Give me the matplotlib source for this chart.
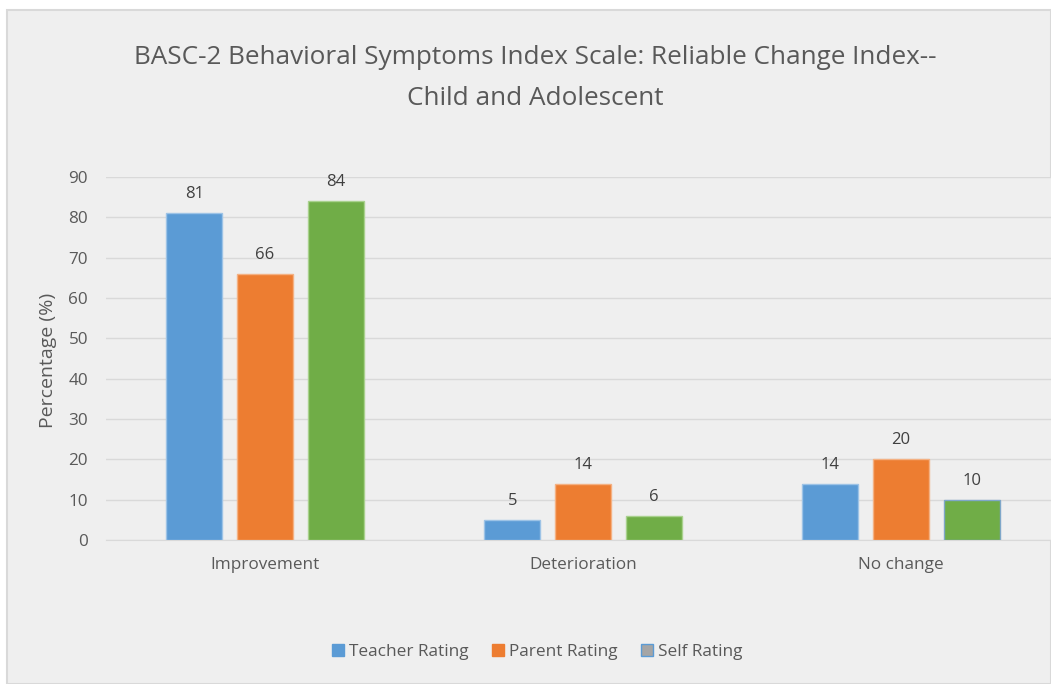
import numpy as np
import matplotlib.pyplot as plt
from matplotlib.patches import Rectangle, Patch

plt.rcParams["font.family"] = ["Open Sans", "DejaVu Sans"]

categories = ["Improvement", "Deterioration", "No change"]
teacher = [81, 5, 14]
parent = [66, 14, 20]
self_rating = [84, 6, 10]
series_names = ["Teacher Rating", "Parent Rating", "Self Rating"]

BG = "#efefef"
TXT = "#595959"
colors = ["#5b9bd5", "#ed7d31", "#70ad47"]
edges = ["#9dc3e6", "#f4b183", "#a9d18e"]

W, H = 1051, 684
fig = plt.figure(figsize=(W / 100, H / 100), dpi=100, facecolor="white")
fig.patches.append(Rectangle((7 / W, 0), 1 - 7 / W, 1 - 10 / H, transform=fig.transFigure,
                             facecolor=BG, edgecolor="#d9d9d9", lw=1.5, zorder=-1))

ax = fig.add_axes([106 / W, 1 - 540 / H, 954 / W, (540 - 177) / H])
ax.set_facecolor(BG)

x = np.arange(len(categories))
bw = 0.176
pitch = 0.222
data = [teacher, parent, self_rating]
for i, vals in enumerate(data):
    pos = x + (i - 1) * pitch
    ec = [edges[i]] * len(vals)
    if i == 2:
        ec[2] = "#7fa7c9"
    ax.bar(pos, vals, bw, color=colors[i], edgecolor=ec, linewidth=1, zorder=3)
    for p, v in zip(pos, vals):
        ax.text(p, v + 2.7, str(v), ha="center", va="bottom", fontsize=12, color="#404040")

ax.set_xlim(-0.5, 2.5)
ax.set_ylim(0, 90)
ax.set_yticks(range(0, 91, 10))
ax.yaxis.grid(True, color="#d9d9d9", lw=1, zorder=0)
ax.set_xticks(x)
ax.set_xticklabels(categories)
ax.tick_params(axis="both", length=0, labelsize=12.3, labelcolor=TXT)
ax.tick_params(axis="x", pad=12)
ax.tick_params(axis="y", pad=13)
for s in ["top", "right", "left"]:
    ax.spines[s].set_visible(False)
ax.spines["bottom"].set_color("#d9d9d9")

fig.text(48 / W, 1 - 360 / H, "Percentage (%)", rotation=90, ha="center", va="center",
         fontsize=14, color=TXT)

fig.text(535 / W, 1 - 78 / H,
         "BASC-2 Behavioral Symptoms Index Scale: Reliable Change Index--\nChild and Adolescent",
         ha="center", va="center", fontsize=18.8, color=TXT, linespacing=1.8)

handles = [Patch(facecolor=colors[0], edgecolor=colors[0]),
           Patch(facecolor=colors[1], edgecolor=colors[1]),
           Patch(facecolor="#a5a5a5", edgecolor="#5b9bd5")]
fig.legend(handles, series_names, loc="center", bbox_to_anchor=(537 / W, 1 - 652 / H),
           ncol=3, frameon=False, fontsize=12.4, labelcolor=TXT,
           handlelength=0.7, handleheight=0.7, handletextpad=0.3, columnspacing=1.35)

fig.savefig("out.png", dpi=100, facecolor=fig.get_facecolor())
